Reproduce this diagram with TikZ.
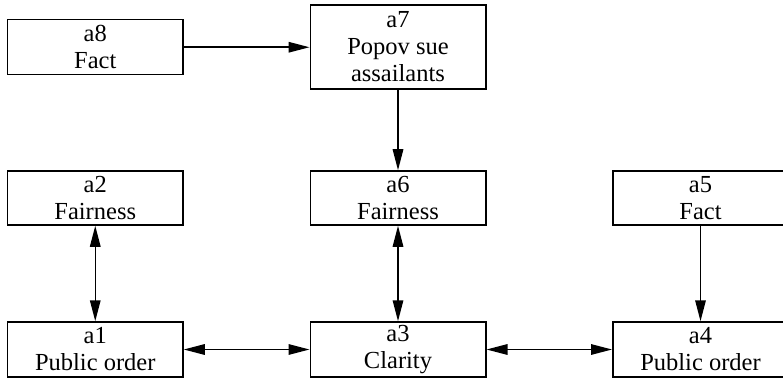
\documentclass[tikz,border=0pt]{standalone}
\usepackage{fontspec}
\setmainfont{Liberation Serif}
\usetikzlibrary{arrows.meta}
\begin{document}
\begin{tikzpicture}[x=1pt,y=-1pt,
  argbox/.style={draw,line width=1.5pt,minimum width=175.5pt,minimum height=55pt,inner sep=0pt,align=center,
    font=\fontsize{24.5}{27}\selectfont},
  conn/.style={line width=1.5pt,-{Triangle[length=21pt,width=10.5pt]}},
  bconn/.style={line width=1.5pt,{Triangle[length=21pt,width=10.5pt]}-{Triangle[length=21pt,width=10.5pt]}}]
\useasboundingbox (0,0) rectangle (783,379);
\node[argbox] (a8) at (95.25,47.25) {a8\\Fact};
\node[argbox,minimum height=84pt] (a7) at (398,47) {a7\\Popov sue\\assailants};
\node[argbox,minimum height=54pt] (a2) at (95.25,198) {a2\\Fairness};
\node[argbox,minimum height=54pt] (a6) at (398,198) {a6\\Fairness};
\node[argbox,minimum height=54pt] (a5) at (700.5,198) {a5\\Fact};
\node[argbox] (a1) at (95.25,349.5) {a1\\Public order};
\node[argbox] (a3) at (398,349.5) {a3\\Clarity};
\node[argbox] (a4) at (700.5,349.5) {a4\\Public order};
\draw[conn] (a8) -- (a8 -| a7.west);
\draw[conn] (a7) -- (a6);
\draw[bconn] (a2) -- (a1);
\draw[bconn] (a6) -- (a3);
\draw[bconn] (a1) -- (a3);
\draw[bconn] (a3) -- (a4);
\draw[conn] (a5) -- (a4);
\end{tikzpicture}
\end{document}
